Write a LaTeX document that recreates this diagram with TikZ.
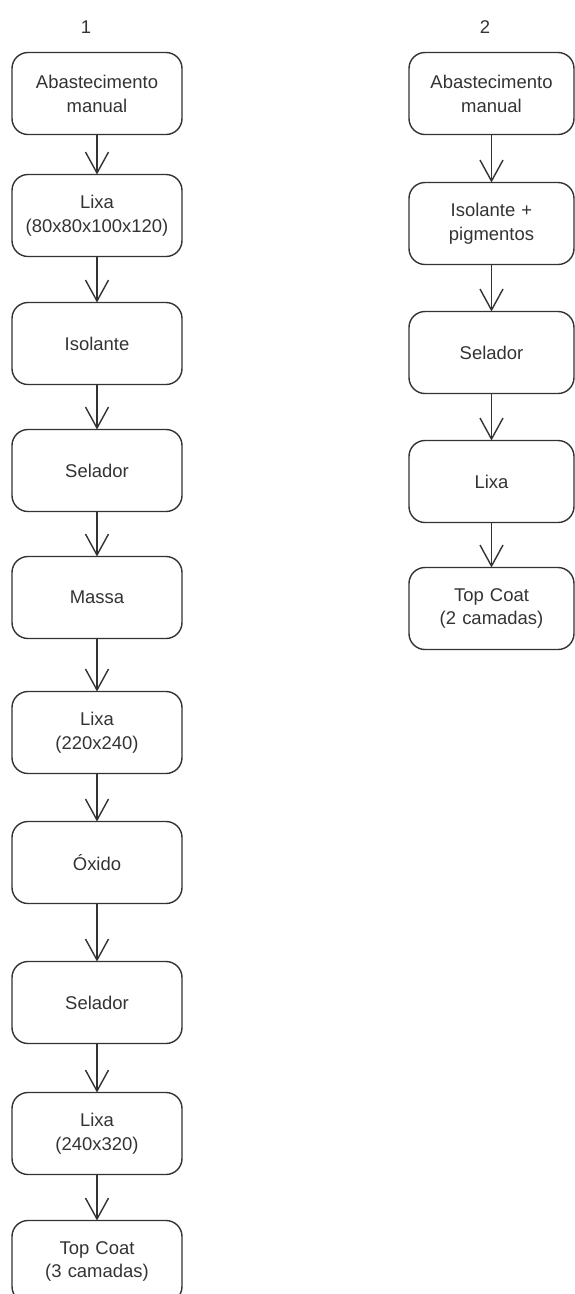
\documentclass[tikz,border=0pt]{standalone}
\usepackage{fontspec}
\setmainfont{Liberation Sans}
\usetikzlibrary{arrows.meta, positioning}
\definecolor{stepgray}{RGB}{51,51,51}

\begin{document}
\begin{tikzpicture}[font=\fontsize{10.5}{13.6}\selectfont,
  box/.style={draw=stepgray, text=stepgray, rounded corners=0.32cm, line width=0.8pt, minimum width=3.4cm, minimum height=1.64cm, text width=3.2cm, align=center, inner sep=0pt, outer sep=0pt},
  flow/.style={-{Straight Barb[length=4.2mm, width=4.6mm]}, stepgray, line width=0.8pt}]
  \useasboundingbox (0,0) rectangle (11.48,-25.88);
  % route 1
  \node[text=stepgray] (n1) at (1.72,-0.54) {1};
  \node[box] (a1) at (1.94,-1.87) {Abastecimento\\manual};
  \node[box, below=0.8cm of a1] (a2) {Lixa\\(80x80x100x120)};
  \node[box, below=0.92cm of a2] (a3) {Isolante};
  \node[box, below=0.9cm of a3] (a4) {Selador};
  \node[box, below=0.9cm of a4] (a5) {Massa};
  \node[box, below=1.06cm of a5] (a6) {Lixa\\(220x240)};
  \node[box, below=0.96cm of a6] (a7) {Óxido};
  \node[box, below=1.16cm of a7] (a8) {Selador};
  \node[box, below=0.98cm of a8] (a9) {Lixa\\(240x320)};
  \node[box, below=0.92cm of a9] (a10) {Top Coat\\(3 camadas)};
  \foreach \i/\j in {1/2, 2/3, 3/4, 4/5, 5/6, 6/7, 7/8, 8/9, 9/10}
    \draw[flow] (a\i) -- (a\j);
  % route 2
  \node[text=stepgray] (n2) at (9.7,-0.54) {2};
  \node[box, minimum width=3.3cm] (b1) at (9.83,-1.87) {Abastecimento\\manual};
  \node[box, minimum width=3.3cm, below=0.96cm of b1] (b2) {Isolante +\\pigmentos};
  \node[box, minimum width=3.3cm, below=0.94cm of b2] (b3) {Selador};
  \node[box, minimum width=3.3cm, below=0.94cm of b3] (b4) {Lixa};
  \node[box, minimum width=3.3cm, below=0.9cm of b4] (b5) {Top Coat\\(2 camadas)};
  \foreach \i/\j in {1/2, 2/3, 3/4, 4/5}
    \draw[flow] (b\i) -- (b\j);
\end{tikzpicture}
\end{document}
